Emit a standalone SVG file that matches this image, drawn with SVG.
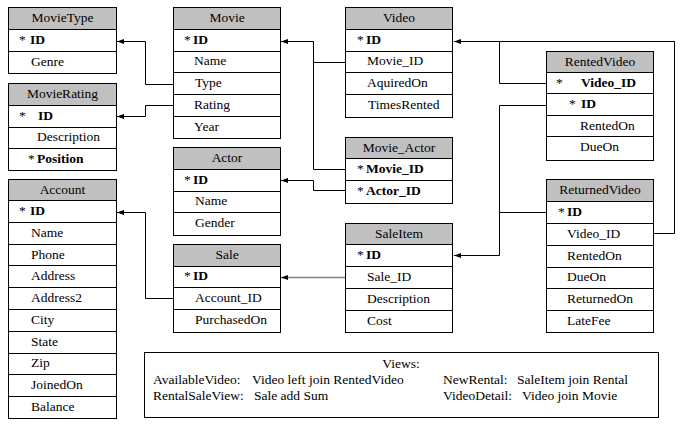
<svg xmlns="http://www.w3.org/2000/svg" width="683" height="425" viewBox="0 0 683 425">
<style>
text{font-family:'Liberation Serif','Times New Roman',serif;font-size:13.5px;font-weight:normal;fill:#000}
.b{font-weight:bold}
.t{text-anchor:middle}
.box{fill:#fff;stroke:#000;stroke-width:1}
.hd{fill:#c0c0c0;stroke:#000;stroke-width:1}
.ln{stroke:#000;stroke-width:1;fill:none}
.cn{stroke:#000;stroke-width:1;fill:none}
.gr{stroke:#808080;stroke-width:1.5;fill:none}
</style>
<defs>
<marker id="ah" markerUnits="userSpaceOnUse" markerWidth="7" markerHeight="6" refX="7" refY="3" orient="auto"><path d="M0,0.5 L7,3 L0,5.5 z" fill="#000"/></marker>
<marker id="ahg" markerUnits="userSpaceOnUse" markerWidth="7" markerHeight="6" refX="7" refY="3" orient="auto"><path d="M0,0.5 L7,3 L0,5.5 z" fill="#000"/></marker>
</defs>
<rect width="683" height="425" fill="#fff"/>

<g id="connectors">
<path class="cn" d="M173,84.5 H145.5 V41.5 H117" marker-end="url(#ah)"/>
<path class="cn" d="M173,105.5 H145.5 V116.5 H117" marker-end="url(#ah)"/>
<path class="cn" d="M345,62.5 H313.5 V41.5 H281" marker-end="url(#ah)"/>
<path class="cn" d="M345,169.5 H313.5 V41.5"/>
<path class="cn" d="M345,190.5 H313.5 V180.5 H281" marker-end="url(#ah)"/>
<path class="cn" d="M173,298.5 H145.5 V212.5 H117" marker-end="url(#ah)"/>
<path class="gr" d="M345,277.5 H281" marker-end="url(#ahg)"/>
<path class="cn" d="M547,212.5 H499.5 V255.5 H454" marker-end="url(#ah)"/>
<path class="cn" d="M546,105.5 H499.5 V212.5"/>
<path class="cn" d="M546,83.5 H499.5 V41.5 H454" marker-end="url(#ah)"/>
<path class="cn" d="M653,233.5 H674.5 V41.5 H499.5"/>
</g>

<g id="MovieType">
<rect class="box" x="8.5" y="7.5" width="108" height="66"/>
<rect class="hd" x="8.5" y="7.5" width="108" height="22"/>
<path class="ln" d="M8.5,51.5 H116.5"/>
<text class="t" x="62.5" y="22">MovieType</text>
<text x="19" y="44">*</text><text class="b" x="30" y="44">ID</text>
<text x="31" y="66">Genre</text>
</g>

<g id="MovieRating">
<rect class="box" x="8.5" y="83.5" width="108" height="87"/>
<rect class="hd" x="8.5" y="83.5" width="108" height="22"/>
<path class="ln" d="M8.5,127.5 H116.5 M8.5,148.5 H116.5"/>
<text class="t" x="62.5" y="98">MovieRating</text>
<text x="19" y="120">*</text><text class="b" x="38" y="120">ID</text>
<text x="37" y="141">Description</text>
<text x="28" y="163">*</text><text class="b" x="37" y="163">Position</text>
</g>

<g id="Account">
<rect class="box" x="8.5" y="179.5" width="108" height="239"/>
<rect class="hd" x="8.5" y="179.5" width="108" height="21"/>
<path class="ln" d="M8.5,222.5 H116.5 M8.5,244.5 H116.5 M8.5,265.5 H116.5 M8.5,287.5 H116.5 M8.5,309.5 H116.5 M8.5,331.5 H116.5 M8.5,353.5 H116.5 M8.5,374.5 H116.5 M8.5,396.5 H116.5"/>
<text class="t" x="62.5" y="194">Account</text>
<text x="19" y="215">*</text><text class="b" x="30" y="215">ID</text>
<text x="31" y="237">Name</text>
<text x="31" y="259">Phone</text>
<text x="31" y="280">Address</text>
<text x="31" y="302">Address2</text>
<text x="31" y="324">City</text>
<text x="31" y="346">State</text>
<text x="31" y="367">Zip</text>
<text x="31" y="389">JoinedOn</text>
<text x="31" y="411">Balance</text>
</g>

<g id="Movie">
<rect class="box" x="173.5" y="7.5" width="107" height="131"/>
<rect class="hd" x="173.5" y="7.5" width="107" height="22"/>
<path class="ln" d="M173.5,51.5 H280.5 M173.5,72.5 H280.5 M173.5,94.5 H280.5 M173.5,116.5 H280.5"/>
<text class="t" x="227" y="22">Movie</text>
<text x="184" y="44">*</text><text class="b" x="193" y="44">ID</text>
<text x="194" y="65">Name</text>
<text x="195" y="87">Type</text>
<text x="194" y="109">Rating</text>
<text x="194" y="131">Year</text>
</g>

<g id="Actor">
<rect class="box" x="173.5" y="147.5" width="107" height="88"/>
<rect class="hd" x="173.5" y="147.5" width="107" height="22"/>
<path class="ln" d="M173.5,191.5 H280.5 M173.5,212.5 H280.5"/>
<text class="t" x="227" y="162">Actor</text>
<text x="184" y="184">*</text><text class="b" x="193" y="184">ID</text>
<text x="195" y="205">Name</text>
<text x="195" y="227">Gender</text>
</g>

<g id="Sale">
<rect class="box" x="173.5" y="244.5" width="107" height="88"/>
<rect class="hd" x="173.5" y="244.5" width="107" height="22"/>
<path class="ln" d="M173.5,287.5 H280.5 M173.5,309.5 H280.5"/>
<text class="t" x="227" y="259">Sale</text>
<text x="184" y="280">*</text><text class="b" x="193" y="280">ID</text>
<text x="195" y="302">Account_ID</text>
<text x="195" y="324">PurchasedOn</text>
</g>

<g id="Video">
<rect class="box" x="345.5" y="7.5" width="107" height="110"/>
<rect class="hd" x="345.5" y="7.5" width="107" height="22"/>
<path class="ln" d="M345.5,51.5 H452.5 M345.5,72.5 H452.5 M345.5,94.5 H452.5"/>
<text class="t" x="399" y="22">Video</text>
<text x="357" y="44">*</text><text class="b" x="366" y="44">ID</text>
<text x="367" y="65">Movie_ID</text>
<text x="367" y="87">AquiredOn</text>
<text x="368" y="109">TimesRented</text>
</g>

<g id="Movie_Actor">
<rect class="box" x="345.5" y="137.5" width="107" height="66"/>
<rect class="hd" x="345.5" y="137.5" width="107" height="21"/>
<path class="ln" d="M345.5,180.5 H452.5"/>
<text class="t" x="399" y="152">Movie_Actor</text>
<text x="357" y="173">*</text><text class="b" x="366" y="173">Movie_ID</text>
<text x="357" y="195">*</text><text class="b" x="366" y="195">Actor_ID</text>
</g>

<g id="SaleItem">
<rect class="box" x="345.5" y="223.5" width="107" height="109"/>
<rect class="hd" x="345.5" y="223.5" width="107" height="21"/>
<path class="ln" d="M345.5,266.5 H452.5 M345.5,288.5 H452.5 M345.5,310.5 H452.5"/>
<text class="t" x="399" y="238">SaleItem</text>
<text x="357" y="259">*</text><text class="b" x="366" y="259">ID</text>
<text x="367" y="281">Sale_ID</text>
<text x="367" y="303">Description</text>
<text x="367" y="325">Cost</text>
</g>

<g id="RentedVideo">
<rect class="box" x="546.5" y="51.5" width="107" height="109"/>
<rect class="hd" x="546.5" y="51.5" width="107" height="21"/>
<path class="ln" d="M546.5,93.5 H653.5 M546.5,115.5 H653.5 M546.5,136.5 H653.5"/>
<text class="t" x="600" y="66">RentedVideo</text>
<text x="556" y="87">*</text><text class="b" x="581" y="87">Video_ID</text>
<text x="569" y="108">*</text><text class="b" x="581" y="108">ID</text>
<text x="580" y="130">RentedOn</text>
<text x="580" y="151">DueOn</text>
</g>

<g id="ReturnedVideo">
<rect class="box" x="546.5" y="179.5" width="107" height="153"/>
<rect class="hd" x="546.5" y="179.5" width="107" height="22"/>
<path class="ln" d="M546.5,223.5 H653.5 M546.5,245.5 H653.5 M546.5,267.5 H653.5 M546.5,288.5 H653.5 M546.5,310.5 H653.5"/>
<text class="t" x="600" y="194">ReturnedVideo</text>
<text x="558" y="216">*</text><text class="b" x="567" y="216">ID</text>
<text x="567" y="238">Video_ID</text>
<text x="567" y="260">RentedOn</text>
<text x="567" y="281">DueOn</text>
<text x="567" y="303">ReturnedOn</text>
<text x="567" y="325">LateFee</text>
</g>

<g id="Views">
<rect class="box" x="144.5" y="352.5" width="514" height="65"/>
<text class="t" x="401" y="368">Views:</text>
<text x="153" y="384">AvailableVideo:</text>
<text x="252" y="384">Video left join RentedVideo</text>
<text x="443" y="384">NewRental:</text>
<text x="517" y="384">SaleItem join Rental</text>
<text x="153" y="400">RentalSaleView:</text>
<text x="254" y="400">Sale add Sum</text>
<text x="443" y="400">VideoDetail:</text>
<text x="522" y="400">Video join Movie</text>
</g>
</svg>
